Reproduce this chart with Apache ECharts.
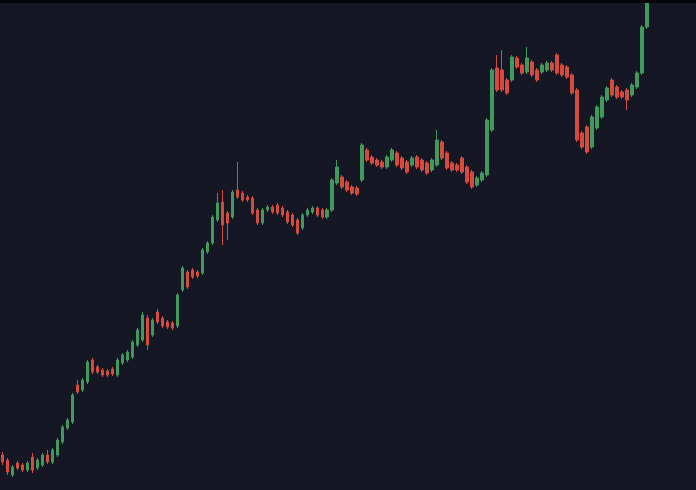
<!DOCTYPE html>
<html><head><meta charset="utf-8">
<script src="https://cdn.jsdelivr.net/npm/echarts@6/dist/echarts.min.js"></script>
<style>html,body{margin:0;padding:0;background:#050507;overflow:hidden}#c{position:absolute;left:0;top:3px;width:696px;height:487px;}</style>
</head><body><div id="c"></div>
<script>
const opens  = [35,30,15,27,25,20,33,22,25,35,28,35,48,62,68,105,100,108,130,123,120,119,121,115,127,130,133,145,150,172,155,178,172,168,167,164,200,218,220,218,217,238,247,270,288,277,273,300,297,293,292,280,267,280,283,285,282,278,275,270,262,275,278,282,280,273,280,307,313,308,303,302,310,340,333,330,328,323,330,337,332,328,325,333,330,327,320,325,348,337,327,325,332,323,318,305,310,315,360,422,420,410,410,432,425,418,428,420,418,420,427,435,425,423,415,400,357,363,343,362,373,390,410,403,398,400,395,403,417,463];
const closes = [28,18,23,22,20,27,20,30,35,28,40,50,63,70,95,98,110,128,118,118,115,115,116,130,135,138,148,160,175,145,170,168,164,163,162,195,222,203,213,214,240,247,273,287,265,267,298,293,290,290,277,267,280,283,278,277,275,268,265,257,275,280,282,275,273,280,310,323,303,300,297,296,345,330,327,325,323,333,340,325,322,318,332,323,320,317,330,350,332,322,320,320,318,308,303,312,317,370,420,400,400,397,433,423,417,432,415,410,425,427,420,417,415,413,397,350,343,338,373,383,393,402,395,393,393,390,405,417,463,490];
const lows   = [25,15,13,20,18,18,17,20,23,26,26,33,46,60,66,96,98,106,116,116,113,113,114,113,125,128,131,143,148,140,153,166,162,161,160,162,198,201,211,212,215,236,245,268,245,250,271,291,288,288,275,265,265,278,276,275,273,266,263,255,260,273,276,273,271,271,278,305,301,298,295,294,308,328,325,323,321,321,328,323,320,316,323,321,318,315,318,323,330,320,318,318,316,306,301,303,308,313,358,398,398,395,408,421,415,416,413,408,416,418,418,415,413,411,395,348,341,336,341,360,371,388,393,391,391,380,393,401,415,461];
const highs  = [38,32,25,29,27,29,37,32,37,40,42,52,65,72,97,110,112,130,132,125,122,121,123,132,137,140,150,162,178,175,172,181,174,170,169,197,224,220,222,220,242,249,275,297,300,279,300,328,299,295,294,282,282,285,285,287,284,280,277,272,277,282,284,284,282,282,312,330,315,310,305,304,347,342,335,332,330,335,342,339,334,330,334,335,332,329,332,360,350,339,329,327,334,325,320,314,319,372,422,435,440,412,435,434,427,443,430,422,427,429,429,437,427,425,417,402,359,365,375,385,395,404,412,405,400,402,407,419,465,495];
const categories = opens.map((_, i) => String(i + 1));

const chart = echarts.init(document.getElementById('c'));
chart.setOption({
  backgroundColor: '#151724',
  animation: false,
  grid: { left: -0.5, right: 46.5, top: 0, bottom: 0 },
  xAxis: { type: 'category', data: categories, boundaryGap: true, show: false },
  yAxis: { type: 'value', min: 0, max: 487, show: false, splitLine: { show: false } },
  series: [{
    type: 'candlestick',
    clip: true,
    barWidth: 3,
    data: opens.map((o, i) => [o, closes[i], lows[i], highs[i]]),
    itemStyle: {
      color: '#3f9a5c', color0: '#d54b3e',
      borderColor: '#3f9a5c', borderColor0: '#d54b3e', borderWidth: 1
    }
  }]
});
</script></body></html>
